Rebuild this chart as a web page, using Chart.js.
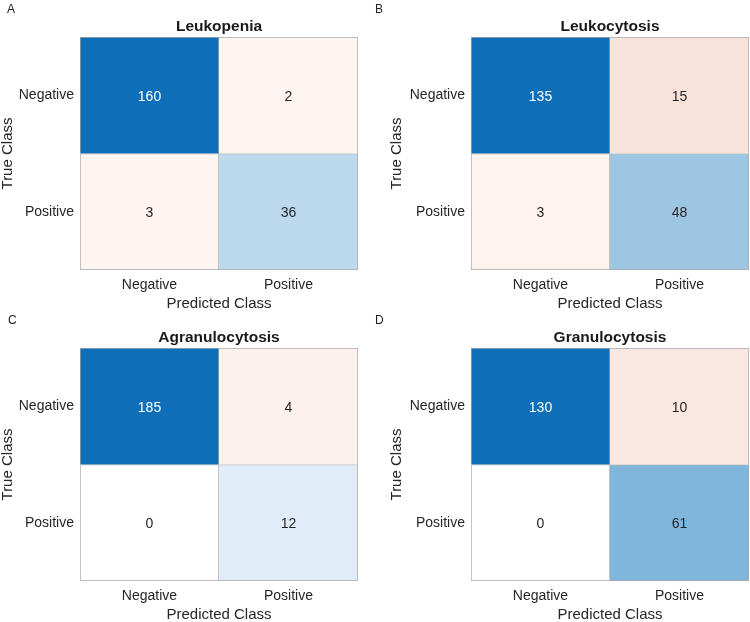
<!DOCTYPE html>
<html><head><meta charset="utf-8">
<script src="https://cdn.jsdelivr.net/npm/chart.js@4.4.1/dist/chart.umd.min.js"></script>
<style>
html,body{margin:0;padding:0;background:#fff}
body{width:750px;height:622px;position:relative;overflow:hidden;font-family:"Liberation Sans",Arial,sans-serif}
.p{position:absolute;width:375px;height:311px}
.lbl{position:absolute;font-size:12px;line-height:12px;color:#222}
</style></head><body>
<div class="p" style="left:0;top:0"><canvas id="c0" width="375" height="311"></canvas></div>
<div class="p" style="left:375px;top:0"><canvas id="c1" width="375" height="311"></canvas></div>
<div class="p" style="left:0;top:311px"><canvas id="c2" width="375" height="311"></canvas></div>
<div class="p" style="left:375px;top:311px"><canvas id="c3" width="375" height="311"></canvas></div>
<div class="lbl" style="left:7px;top:3px">A</div>
<div class="lbl" style="left:375px;top:3px">B</div>
<div class="lbl" style="left:8px;top:314px">C</div>
<div class="lbl" style="left:375px;top:314px">D</div>
<script>
// ---- data ----
const panelTitles = ['Leukopenia', 'Leukocytosis', 'Agranulocytosis', 'Granulocytosis'];
const classLabels = ['Negative', 'Positive'];      // predicted (x) and true (y) classes
const xAxisTitle = 'Predicted Class';
const yAxisTitle = 'True Class';
// rows = true class (Negative, Positive); columns = predicted class (Negative, Positive)
const leukopenia      = [[160, 2], [3, 36]];
const leukocytosis    = [[135, 15], [3, 48]];
const agranulocytosis = [[185, 4], [0, 12]];
const granulocytosis  = [[130, 10], [0, 61]];
const matrices = [leukopenia, leukocytosis, agranulocytosis, granulocytosis];

// ---- styles ----
const cellColors = [
  [['#0E6EB8', '#FEF4F1'], ['#FEF4F1', '#BDD9ED']],
  [['#0E6EB8', '#F8E3DA'], ['#FEF3EF', '#9DC6E3']],
  [['#0E6EB8', '#FDF1ED'], ['#FFFFFF', '#E0EDF8']],
  [['#0E6EB8', '#F9E8E1'], ['#FFFFFF', '#80B6DC']]
];
const textColors = [
  [['#FFFFFF', '#262626'], ['#262626', '#262626']],
  [['#FFFFFF', '#262626'], ['#262626', '#262626']],
  [['#FFFFFF', '#262626'], ['#262626', '#262626']],
  [['#FFFFFF', '#262626'], ['#262626', '#262626']]
];
const FONT = '"Liberation Sans", Arial, sans-serif';
const GRAY = '#A8A8A8';
const TXT = '#262626';

const cellText = {
  id: 'cellText',
  afterDatasetsDraw(chart, args, opts) {
    const ctx = chart.ctx;
    ctx.save();
    ctx.textAlign = 'center';
    ctx.textBaseline = 'middle';
    ctx.font = '14px ' + FONT;
    chart.data.datasets.forEach((ds, di) => {
      const meta = chart.getDatasetMeta(di);
      meta.data.forEach((el, i) => {
        ctx.fillStyle = ds.textColors[i];
        ctx.fillText(String(ds.counts[i]), el.x, (el.y + el.base) / 2 + 1.5);
      });
    });
    const ca = chart.chartArea;
    ctx.font = 'bold 15.5px ' + FONT;
    ctx.fillStyle = '#1a1a1a';
    ctx.fillText(opts.title, (ca.left + ca.right) / 2, 27);
    ctx.restore();
  }
};

function makeChart(idx) {
  const m = matrices[idx];
  const rightCol = idx % 2 === 1;
  const padLeft = rightCol ? 14 : 0;
  const yWidth = rightCol ? 82 : 80;
  const padRight = rightCol ? 1 : 17;
  // row 0 (true Negative) sits on top: y from 1 to 2; row 1 (true Positive): y from 0 to 1
  const datasets = m.map((row, r) => ({
    label: 'True ' + classLabels[r],
    data: row.map(() => r === 0 ? [1, 2] : [0, 1]),
    counts: row,
    textColors: textColors[idx][r],
    backgroundColor: cellColors[idx][r],
    borderColor: GRAY,
    borderWidth: row.map((_, c) => ({top: 1, right: 1, left: c === 0 ? 1 : 0, bottom: r === 1 ? 1 : 0})),
    borderSkipped: false,
    grouped: false,
    barPercentage: 1,
    categoryPercentage: 1
  }));
  new Chart(document.getElementById('c' + idx), {
    type: 'bar',
    data: {labels: classLabels, datasets},
    plugins: [cellText],
    options: {
      responsive: false,
      animation: false,
      events: [],
      layout: {padding: {left: padLeft, right: padRight, top: 37, bottom: 0}},
      plugins: {
        legend: {display: false},
        tooltip: {enabled: false},
        cellText: {title: panelTitles[idx]}
      },
      scales: {
        x: {
          type: 'category',
          offset: true,
          grid: {display: false, drawTicks: false},
          border: {display: false},
          ticks: {color: TXT, font: {family: FONT, size: 14}, padding: 7, maxRotation: 0},
          title: {display: true, text: xAxisTitle, color: TXT, font: {family: FONT, size: 15, lineHeight: 1}, padding: {top: 0, bottom: 0}},
          afterFit(s) { s.height = 41; }
        },
        y: {
          type: 'linear',
          min: 0, max: 2,
          grid: {display: false, drawTicks: false},
          border: {display: false},
          afterBuildTicks(axis) { axis.ticks = [{value: 0.5}, {value: 1.5}]; },
          ticks: {
            color: TXT, font: {family: FONT, size: 14}, padding: 6,
            callback: v => v === 1.5 ? classLabels[0] : (v === 0.5 ? classLabels[1] : '')
          },
          title: {display: true, text: yAxisTitle, color: TXT, font: {family: FONT, size: 15, lineHeight: 1}, padding: {top: 0, bottom: 0}},
          afterFit(s) { s.width = yWidth; }
        }
      }
    }
  });
}
[0, 1, 2, 3].forEach(makeChart);
</script>
</body></html>
